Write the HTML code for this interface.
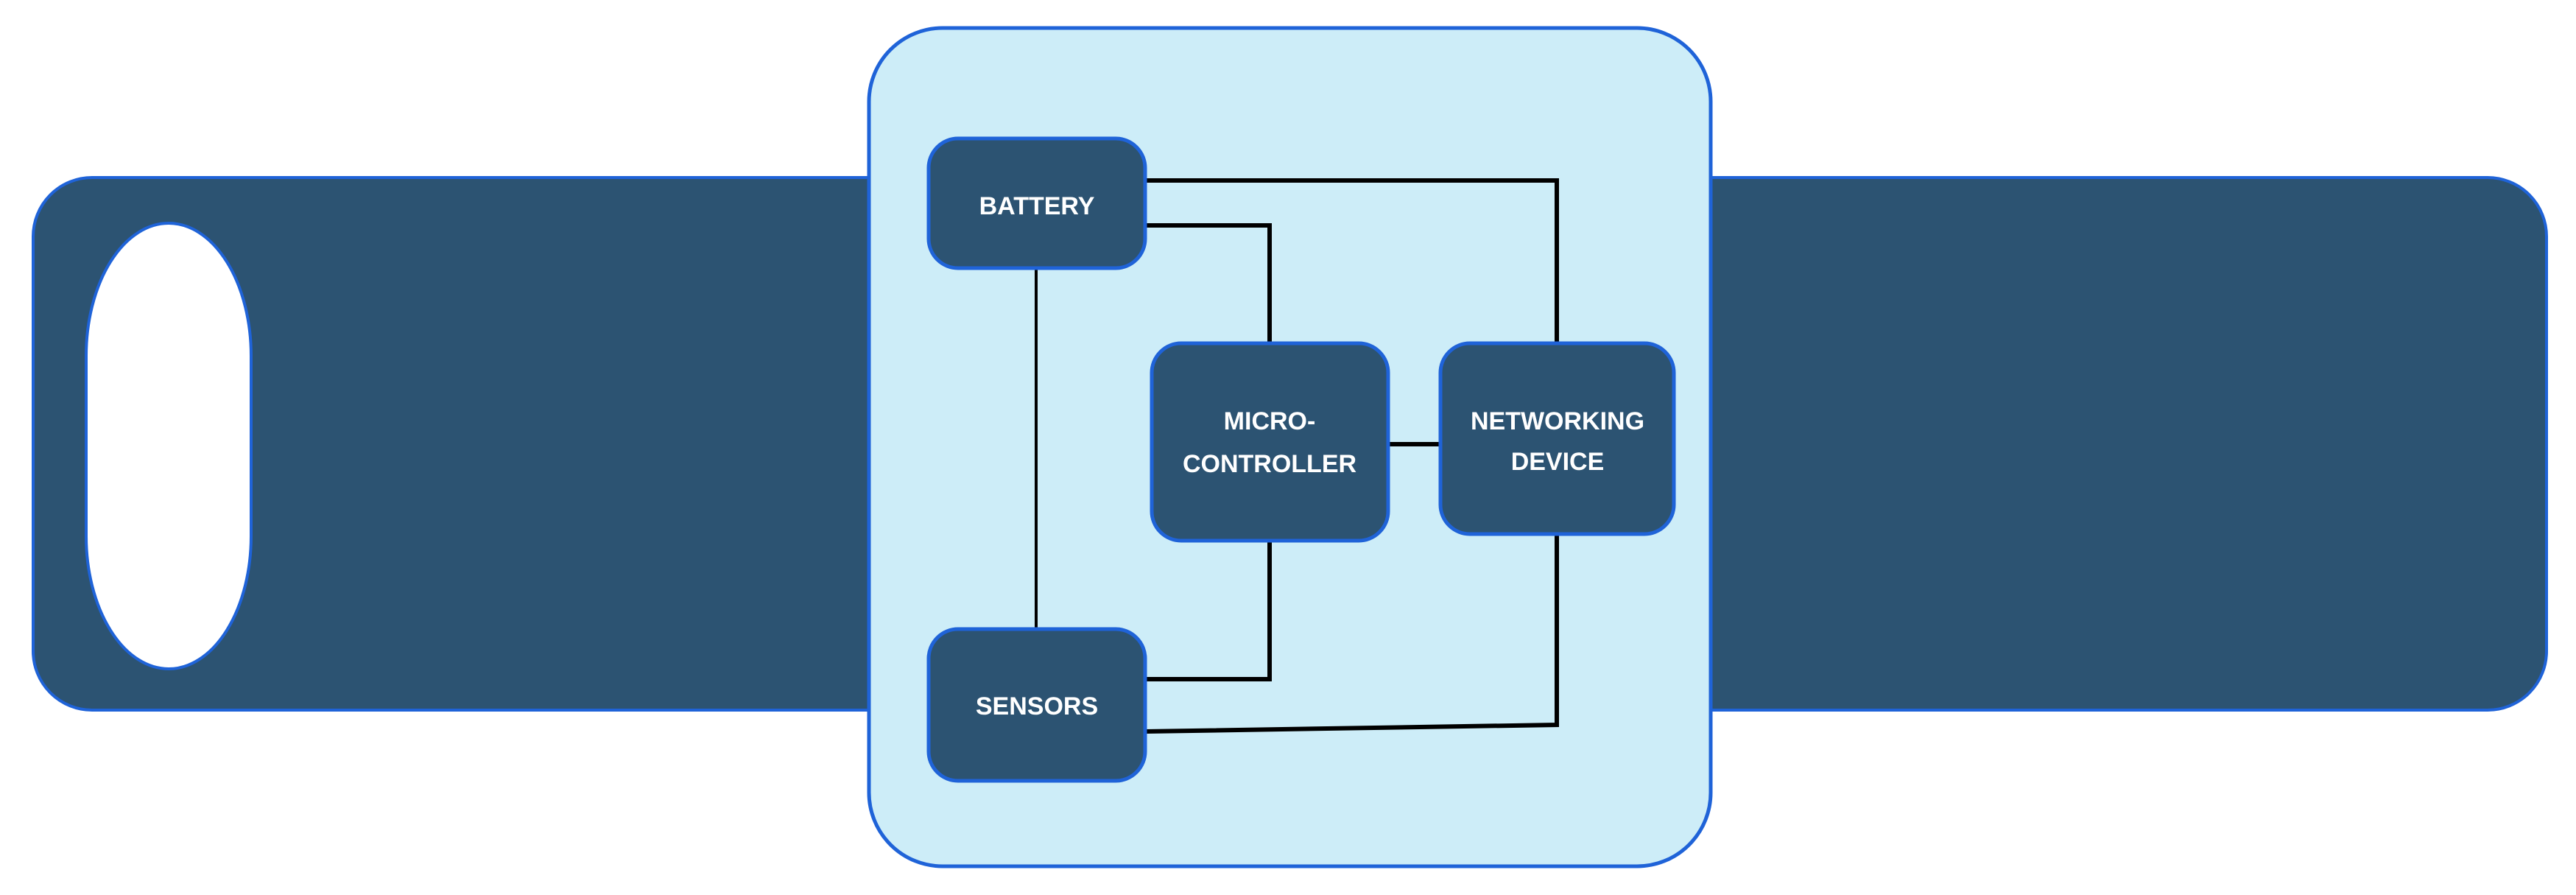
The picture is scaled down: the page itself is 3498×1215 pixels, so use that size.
<!DOCTYPE html>
<html><head><meta charset="utf-8"><style>
body{margin:0;width:3498px;height:1215px;background:#fff;overflow:hidden}
svg{display:block}
text{font-family:"Liberation Sans",sans-serif;font-weight:bold;font-size:34px;fill:#fff;text-anchor:middle}
</style></head><body>
<svg width="3498" height="1215" viewBox="0 0 3498 1215">
<rect x="45" y="241" width="3413" height="723" rx="80" fill="#2C5372" stroke="#1F63D8" stroke-width="4"/>
<rect x="117" y="303" width="224" height="605" rx="112" ry="180" fill="#fff" stroke="#1F63D8" stroke-width="4"/>
<rect x="1180" y="38" width="1143" height="1138" rx="100" fill="#CDEDF8" stroke="#1F63D8" stroke-width="5"/>
<g stroke="#000" fill="none" stroke-width="6">
<polyline points="1555,245 2114,245 2114,466"/>
<polyline points="1555,306 1724,306 1724,466"/>
<line x1="1407" y1="364" x2="1407" y2="854" stroke-width="4"/>
<line x1="1885" y1="603" x2="1957" y2="603"/>
<polyline points="1724,734 1724,922 1555,922"/>
<polyline points="2114,725 2114,984 1555,993"/>
</g>
<g fill="#2C5372" stroke="#1F63D8" stroke-width="5">
<rect x="1261" y="188" width="294" height="176" rx="40"/>
<rect x="1261" y="854" width="294" height="206" rx="40"/>
<rect x="1564" y="466" width="321" height="268" rx="40"/>
<rect x="1956" y="466" width="317" height="259" rx="40"/>
</g>
<text x="1408" y="291">BATTERY</text>
<text x="1408" y="970">SENSORS</text>
<text x="1724" y="583">MICRO-</text>
<text x="1724" y="641">CONTROLLER</text>
<text x="2115" y="583">NETWORKING</text>
<text x="2115" y="638">DEVICE</text>
</svg>
</body></html>
